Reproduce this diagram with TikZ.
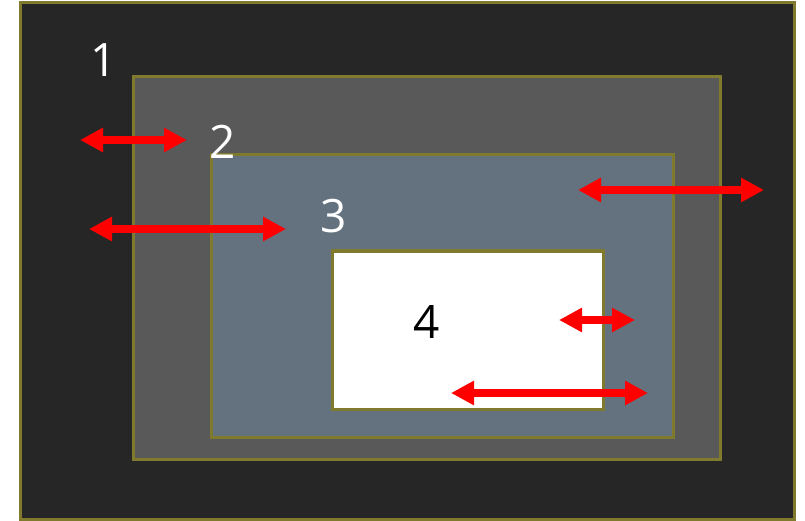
\documentclass[tikz,border=0pt]{standalone}
\usepackage{fontspec}
\setmainfont{Open Sans}
\usetikzlibrary{arrows.meta}
\definecolor{edge}{HTML}{7F7A2E}
\definecolor{c1}{HTML}{262626}
\definecolor{c2}{HTML}{595959}
\definecolor{c3}{HTML}{64717E}
\tikzset{
  box/.style={draw=edge, line width=3pt},
  num/.style={font=\fontsize{46}{46}\selectfont, inner sep=0pt},
  dbl/.style={draw=red, line width=8pt, {Triangle[length=23pt,width=23pt]}-{Triangle[length=23pt,width=23pt]}}
}
\begin{document}
\begin{tikzpicture}[x=1pt,y=-1pt]
\useasboundingbox (0,0) rectangle (805,521);
\fill[white] (0,0) rectangle (805,521);
\draw[box, fill=c1] (20,3) rectangle (794,519);
\draw[box, fill=c2] (133,77) rectangle (720,459);
\draw[box, fill=c3] (211,155) rectangle (673,437);
\draw[box, fill=white] (332,251) rectangle (603,409);
\node[num, text=white] (n1) at (104,60) {1};
\node[num, text=white] (n2) at (223,142) {2};
\node[num, text=white] (n3) at (334,216) {3};
\node[num, text=black] (n4) at (427,322) {4};
\coordinate (a1l) at (80,140); \coordinate (a1r) at (187,140);
\coordinate (a2l) at (89,229); \coordinate (a2r) at (286,229);
\coordinate (a3l) at (578,190); \coordinate (a3r) at (764,190);
\coordinate (a4l) at (559,320); \coordinate (a4r) at (635,320);
\coordinate (a5l) at (451,393); \coordinate (a5r) at (648,393);
\draw[dbl] (a1l) -- (a1r);
\draw[dbl] (a2l) -- (a2r);
\draw[dbl] (a3l) -- (a3r);
\draw[dbl] (a4l) -- (a4r);
\draw[dbl] (a5l) -- (a5r);
\end{tikzpicture}
\end{document}
